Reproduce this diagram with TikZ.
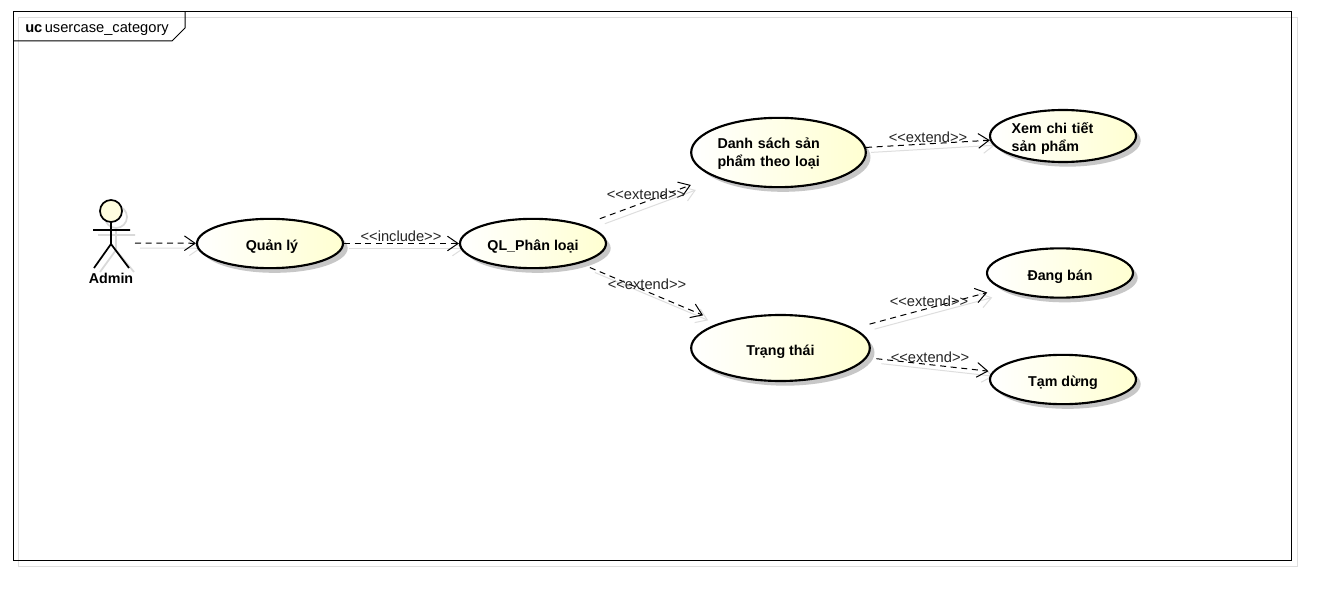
\documentclass[tikz,border=0pt]{standalone}
\usepackage{fontspec}
\setmainfont{Liberation Sans}
\usetikzlibrary{arrows.meta,positioning,calc,shapes,shadows,backgrounds}

\tikzset{
	usecase/.style={ellipse,draw,line width=1.6pt,inner sep=0pt,minimum width=109.5pt,minimum height=37pt,
		left color=white,right color=yellow!18,font=\bfseries\fontsize{10.7}{13.5}\selectfont,
		text height=10.5pt,text depth=0pt,
		drop shadow={shadow xshift=3.5pt,shadow yshift=-3.5pt,fill=black!22,opacity=1}},
	twolines/.style={text height=8pt,text depth=14.2pt},
	dep/.style={-{Straight Barb[length=8pt,width=11pt]},dash pattern=on 4.5pt off 3.5pt,line width=0.75pt},
	depshadow/.style={-{Straight Barb[length=8pt,width=11pt]},black!13,line width=0.75pt,
		transform canvas={xshift=3.75pt,yshift=-3.75pt}},
	deplabel/.style={font=\fontsize{11}{13}\selectfont,text=black!85,inner sep=0pt},
	actorline/.style={line width=1.3pt},
	actorshadow/.style={line width=1.3pt,black!15}
}

\begin{document}
\begin{tikzpicture}[x=0.75pt,y=-0.75pt]
\useasboundingbox (0,0) rectangle (1332,592);

% frame
\draw[line width=0.75pt] (13,12) rectangle (1291,560);
\draw[line width=0.75pt] (13,41) -- (172,41) -- (185,28) -- (185,12);
\node[anchor=west,inner sep=0pt,font=\fontsize{11}{13}\selectfont] (title) at (25,29.5) {\textbf{uc}\,usercase\_category};

% actor
\draw[actorshadow] (116,217) circle (11);
\draw[actorshadow] (116,228) -- (116,250) (98,235) -- (135,235) (116,250) -- (100,272) (116,250) -- (134,272);
\draw[actorline,fill=yellow!12] (111,211) circle (11);
\draw[actorline] (111,222) -- (111,244) (93,230) -- (130,230) (111,244) -- (94,268) (111,244) -- (129,268);
\coordinate (admin) at (111,243);
\node[font=\bfseries\fontsize{10.7}{13}\selectfont,inner sep=0pt] (adminlabel) at (111,278) {Admin};

% use cases
\node[usecase] (quanly) at (270,243.5) {\hspace{3pt}Quản lý};
\node[usecase] (phanloai) at (533,243.5) {QL\_Phân loại};
\node[usecase,twolines,minimum width=131pt,minimum height=52pt,text width=91.5pt] (danhsach) at (778.5,152.5) {Danh sách sản\\phẩm theo loại};
\node[usecase,twolines,text depth=11.2pt,minimum height=39pt,text width=77pt] (chitiet) at (1063,136) {Xem chi tiết\\sản phẩm};
\node[usecase,minimum width=134pt,minimum height=49.5pt] (trangthai) at (780.5,348) {Trạng thái};
\node[usecase] (dangban) at (1060,273) {Đang bán};
\node[usecase] (tamdung) at (1063,379.5) {Tạm dừng};

% connector shadows
\begin{scope}[on background layer]
\fill[white] (0,0) rectangle (1332,592);
\draw[black!13] (18,17) rectangle (1297,566);
\draw[depshadow,shorten <=18pt] (admin) -- (quanly);
\draw[depshadow] (quanly) -- (phanloai);
\draw[depshadow,shorten <=13pt,shorten >=18pt] (phanloai) -- (danhsach);
\draw[depshadow,shorten <=8pt,shorten >=14pt] (phanloai) -- (trangthai);
\draw[depshadow] (danhsach) -- (chitiet);
\draw[depshadow,shorten <=12pt,shorten >=11pt] (trangthai) -- (dangban);
\draw[depshadow,shorten <=7pt,shorten >=3pt] (trangthai) -- (tamdung);
\end{scope}

% connectors
\draw[dep,shorten <=18pt] (admin) -- (quanly);
\draw[dep] (quanly) -- (phanloai);
\draw[dep,shorten <=13pt,shorten >=18pt] (phanloai) -- (danhsach);
\draw[dep,shorten <=8pt,shorten >=14pt] (phanloai) -- (trangthai);
\draw[dep] (danhsach) -- (chitiet);
\draw[dep,shorten <=12pt,shorten >=11pt] (trangthai) -- (dangban);
\draw[dep,shorten <=7pt,shorten >=3pt] (trangthai) -- (tamdung);

% connector labels
\node[deplabel] (lblinclude) at (401,236) {<{}<include>{}>};
\node[deplabel] (lbldanhsach) at (646,194) {<{}<extend>{}>};
\node[deplabel] (lbltrangthai) at (647,284) {<{}<extend>{}>};
\node[deplabel] (lblchitiet) at (928,137) {<{}<extend>{}>};
\node[deplabel] (lbldangban) at (929,301) {<{}<extend>{}>};
\node[deplabel] (lbltamdung) at (930,357) {<{}<extend>{}>};
\end{tikzpicture}
\end{document}
